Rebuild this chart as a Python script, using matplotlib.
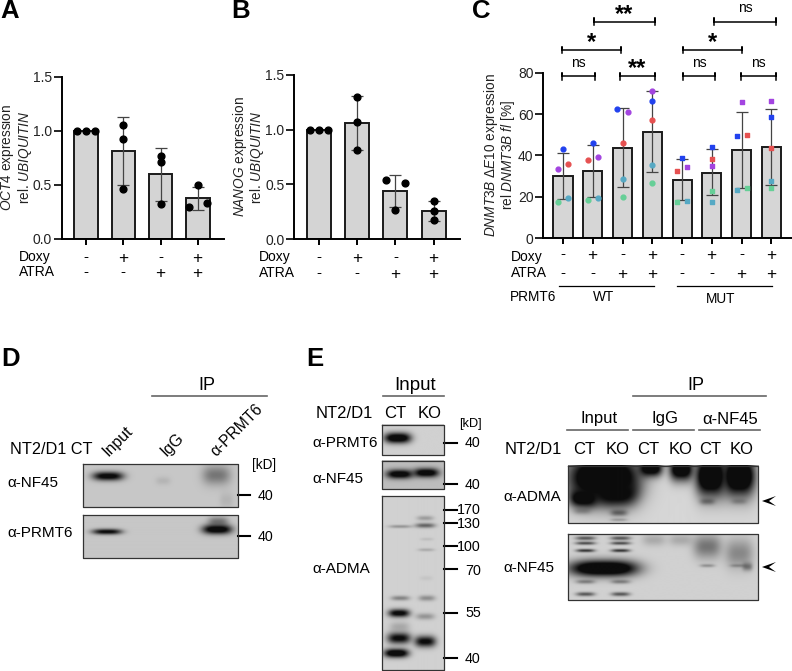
#!/usr/bin/env python3
import numpy as np
import matplotlib
matplotlib.use('Agg')
import matplotlib.pyplot as plt
from matplotlib.transforms import blended_transform_factory

plt.rcParams['font.family'] = ['Liberation Sans', 'DejaVu Sans']
plt.rcParams['mathtext.fontset'] = 'custom'
plt.rcParams['mathtext.rm'] = 'Liberation Sans'
plt.rcParams['mathtext.it'] = 'Liberation Sans:italic'
plt.rcParams['mathtext.default'] = 'regular'

W, H = 792, 671

# panel A
doxy_a = ['-', '+', '-', '+']
atra_a = ['-', '-', '+', '+']
means_a = [1.0, 0.81, 0.60, 0.38]
err_hi_a = [1.0, 1.13, 0.845, 0.485]
err_lo_a = [1.0, 0.50, 0.355, 0.27]
pts_a = [[1.0, 1.0, 1.0], [1.05, 0.92, 0.46], [0.77, 0.71, 0.32], [0.30, 0.50, 0.33]]
off_a = [[-.24, 0, .24], [0, 0, 0], [0, 0, 0], [-.24, 0, .24]]

# panel B
means_b = [1.0, 1.06, 0.44, 0.26]
err_hi_b = [1.0, 1.31, 0.59, 0.35]
err_lo_b = [1.0, 0.81, 0.29, 0.17]
pts_b = [[1.0, 1.0, 1.0], [1.30, 1.07, 0.81], [0.54, 0.27, 0.51], [0.35, 0.26, 0.18]]
off_b = [[-.24, 0, .24], [0, 0, 0], [-.24, 0, .24], [0, 0, 0]]

# panel C, five donors in each bar: blue, purple, red, teal, green
doxy_c = ['-', '+', '-', '+', '-', '+', '-', '+']
atra_c = ['-', '-', '+', '+', '-', '-', '+', '+']
means_c = [30, 32.3, 43.7, 51.5, 28.3, 31.5, 42.5, 44]
err_hi_c = [41.3, 45.2, 62.8, 71, 38.5, 43, 61, 62.7]
err_lo_c = [19, 20, 24.8, 32.2, 18.3, 20.7, 24.2, 25.8]
blue_c = [43.3, 46.2, 62.3, 66.5, 39, 44.3, 49.3, 58.6]
purple_c = [33.6, 39.3, 61, 71.3, 34.3, 34.8, 65.8, 66.3]
red_c = [35.7, 37.7, 46, 57.3, 32.7, 38.5, 49.9, 43.5]
teal_c = [19.6, 19.6, 28.7, 35.6, 18, 17.4, 23.5, 27.5]
green_c = [17.7, 18.4, 20, 26.9, 17.5, 23, 24.3, 24.5]
blue_off = [0, 0, -.17, 0, 0, 0, -.17, 0]
purple_off = [-.17, .17, .17, 0, .17, 0, 0, 0]
red_off = [.17, -.17, 0, 0, -.17, 0, .17, 0]
teal_off = [.17, .17, 0, 0, .17, 0, -.17, 0]
green_off = [-.17, -.17, 0, 0, -.17, 0, .17, 0]
# x0, x1, value, label
brackets_c = [(-.03, 1.06, 78.2, 'ns'), (1.91, 3.09, 78.2, '**'), (-.03, 1.96, 90.9, '*'),
              (1.04, 3.09, 104.6, '**'), (4.02, 5.12, 78.2, 'ns'), (5.97, 7.14, 78.2, 'ns'),
              (4.02, 6.01, 90.9, '*'), (5.08, 7.14, 104.6, 'ns')]

fig = plt.figure(figsize=(W / 100, H / 100), dpi=100)

# full figure axes in pixels for the blots and loose text
pix = fig.add_axes([0, 0, 1, 1])
pix.set_xlim(0, W)
pix.set_ylim(H, 0)
pix.axis('off')


def make_axes(left, right, top, bottom):
    ax = fig.add_axes([left / W, 1 - bottom / H, (right - left) / W, (bottom - top) / H])
    ax.patch.set_alpha(0)
    ax.spines['top'].set_visible(False)
    ax.spines['right'].set_visible(False)
    ax.spines['left'].set_linewidth(1.4)
    ax.spines['bottom'].set_linewidth(1.4)
    ax.tick_params(axis='y', length=6, width=1.4, labelsize=10, pad=0.8, colors='#222222')
    ax.tick_params(axis='x', length=4.5, width=1.4, labelbottom=False)
    return ax


def put_sign(ax, tr, i, y, s):
    # mathtext keeps the box of the plus tight, so the two rows stay apart
    if s == '+':
        ax.text(i, 1 - y / H, '$+$', transform=tr, ha='center', va='center', fontsize=12.3)
    else:
        ax.text(i, 1 - y / H, s, transform=tr, ha='center', va='center', fontsize=11)


def sign_rows(ax, doxy, atra, y1, y2, x_lab, ly1=None, ly2=None):
    tr = blended_transform_factory(ax.transData, fig.transFigure)
    for i in range(len(doxy)):
        put_sign(ax, tr, i, y1, doxy[i])
        put_sign(ax, tr, i, y2, atra[i])
    pix.text(x_lab, ly1 or y1, 'Doxy', fontsize=10, va='center')
    pix.text(x_lab, ly2 or y2, 'ATRA', fontsize=10, va='center')


def y_label(x1, x2, y, line1, line2):
    pix.text(x1, y, line1, rotation=90, fontsize=9.8, ha='center', va='center', color='#222222')
    pix.text(x2, y, line2, rotation=90, fontsize=9.8, ha='center', va='center', color='#222222')


def bar_panel(ax, means, hi, lo, pts, off, bw):
    x = np.arange(len(means))
    ax.bar(x, means, width=bw, color='#d4d4d4', edgecolor='#1a1a1a', linewidth=1.4)
    for i in x:
        if hi[i] != lo[i]:
            ax.errorbar(i, means[i], yerr=[[means[i] - lo[i]], [hi[i] - means[i]]], color='#444444',
                        elinewidth=0.9, capsize=4.3, capthick=0.9)
        ax.scatter(np.array(off[i]) + i, pts[i], s=24, color='black', zorder=5, clip_on=False)
    ax.set_xticks(x)


# A
ax_a = make_axes(61.5, 224, 76.7, 239)
bar_panel(ax_a, means_a, err_hi_a, err_lo_a, pts_a, off_a, 0.625)
ax_a.set_xlim(-0.656, 3.7)
ax_a.set_ylim(0, 1.5)
ax_a.set_yticks([0, 0.5, 1.0, 1.5], ['0.0', '0.5', '1.0', '1.5'])
sign_rows(ax_a, doxy_a, atra_a, 257, 272, 19)
y_label(7.5, 25, 157, '$\\mathit{OCT4}$ expression', 'rel. $\\mathit{UBIQUITIN}$')

# B
ax_b = make_axes(293.7, 460, 74.7, 239.3)
bar_panel(ax_b, means_b, err_hi_b, err_lo_b, pts_b, off_b, 0.625)
ax_b.set_xlim(-0.66, 3.69)
ax_b.set_ylim(0, 1.5)
ax_b.set_yticks([0, 0.5, 1.0, 1.5], ['0.0', '0.5', '1.0', '1.5'])
sign_rows(ax_b, doxy_a, atra_a, 257.5, 273, 259)
y_label(240, 257, 157, '$\\mathit{NANOG}$ expression', 'rel. $\\mathit{UBIQUITIN}$')

# C
ax_c = make_axes(543, 792, 72.7, 238.3)
x_c = np.arange(8)
ax_c.bar(x_c, means_c, width=0.64, color='#d6d6d6', edgecolor='#1a1a1a', linewidth=1.4)
for i in x_c:
    ax_c.errorbar(i, means_c[i], yerr=[[means_c[i] - err_lo_c[i]], [err_hi_c[i] - means_c[i]]],
                  color='#444444', elinewidth=0.9, capsize=4.3, capthick=0.9)
donors = [(blue_c, blue_off, '#2242ee'), (purple_c, purple_off, '#a344e0'), (red_c, red_off, '#e65151'),
          (teal_c, teal_off, '#56a9c4'), (green_c, green_off, '#66cf97')]
for vals, off, col in donors:
    ax_c.scatter(x_c[:4] + np.array(off[:4]), vals[:4], s=12, marker='o', color=col, zorder=5, clip_on=False)
    ax_c.scatter(x_c[4:] + np.array(off[4:]), vals[4:], s=12, marker='s', color=col, zorder=5, clip_on=False)
ax_c.set_xticks(x_c)
ax_c.set_xlim(-0.672, 7.692)
ax_c.set_ylim(0, 80)
ax_c.set_yticks([0, 20, 40, 60, 80])
sign_rows(ax_c, doxy_c, atra_c, 254, 273, 511, 257, 273)
for x0, x1, y, lab in brackets_c:
    ax_c.plot([x0, x0, x0, x1, x1, x1], [y - 1.6, y + 1.6, y, y, y + 1.6, y - 1.6], color='black',
              lw=1.1, clip_on=False)
    if lab == 'ns':
        ax_c.text((x0 + x1) / 2, y + 3.2, lab, ha='center', va='bottom', fontsize=10, clip_on=False)
    else:
        ax_c.text((x0 + x1) / 2, y - 1.9, lab, ha='center', va='bottom', fontsize=17, fontweight='bold', clip_on=False)
y_label(491, 508, 155, '$\\mathit{DNMT3B\\ \\Delta E10}$ expression', 'rel $\\mathit{DNMT3B\\ fl}$ [%]')
pix.plot([559, 654], [286, 286], color='black', lw=0.9)
pix.plot([677, 772], [286, 286], color='black', lw=0.9)
pix.text(510, 297, 'PRMT6', fontsize=9.8, va='center')
pix.text(604, 297, 'WT', fontsize=9.8, ha='center', va='center')
pix.text(721, 299, 'MUT', fontsize=9.8, ha='center', va='center')

# panel letters
for lab, x, y in [('A', 0, 11), ('B', 231, 11), ('C', 472, 11), ('D', 1, 359), ('E', 306, 359)]:
    pix.text(x, y, lab, fontsize=18.5, fontweight='bold', va='center')


# ---- blots, band positions are read in zoomed crop pixels (3x) ----
def blot(ox, oy, box, bg, bands):
    x0, x1, y0, y1 = box
    xs = np.arange(x0, x1 + 1, 1.0)
    ys = np.arange(y0, y1 + 1, 1.0)
    xx, yy = np.meshgrid(xs, ys)
    img = np.full(xx.shape, 1.0)
    for cx, cy, w, h, amp in bands:
        d = np.exp(-np.abs((xx - cx) / w) ** 3 - ((yy - cy) / (h * 1.2)) ** 2)
        img = img * (1 - np.clip(amp * 1.25 * d, 0, 1))
    img = 0.05 + (bg - 0.05) * img
    pix.imshow(img, extent=[ox + x0 / 3, ox + x1 / 3, oy + y1 / 3, oy + y0 / 3], cmap='gray', vmin=0, vmax=1,
               aspect='auto', interpolation='bilinear', zorder=2)
    pix.plot(np.array([x0, x1, x1, x0, x0]) / 3 + ox, np.array([y0, y0, y1, y1, y0]) / 3 + oy,
             color='#333333', lw=0.9, zorder=3)


def kd_tick(x0, x1, y, lab, xt, yt=None):
    pix.plot([x0, x1], [y, y], color='black', lw=1.5)
    pix.text(xt, yt or y + 1, lab, fontsize=10.3, ha='left', va='center')


# D
blot(0, 340, (250, 714, 372, 500), 0.78,
     [(325, 408, 46, 11, 0.92), (650, 405, 42, 24, 0.35), (490, 422, 22, 10, 0.08), (680, 480, 20, 20, 0.08)])
blot(0, 340, (250, 714, 526, 655), 0.78,
     [(322, 576, 44, 7, 0.85), (652, 569, 44, 12, 1.0), (655, 545, 30, 12, 0.35)])
pix.text(10, 449, 'NT2/D1 CT', fontsize=11.7, va='center')
pix.text(7, 483, '\u03b1-NF45', fontsize=11, va='center')
pix.text(7, 533, '\u03b1-PRMT6', fontsize=11, va='center')
pix.text(207, 386, 'IP', fontsize=13, ha='center', va='center')
pix.plot([152, 266.5], [395.5, 395.5], color='#666666', lw=1.2)
pix.text(111, 459, 'Input', fontsize=11.5, rotation=45, ha='left', va='bottom', rotation_mode='anchor')
pix.text(168, 459, 'IgG', fontsize=11.5, rotation=45, ha='left', va='bottom', rotation_mode='anchor')
pix.text(218, 459, '\u03b1-PRMT6', fontsize=11.2, rotation=45, ha='left', va='bottom', rotation_mode='anchor')
pix.text(252, 465, '[kD]', fontsize=9.8, va='center')
kd_tick(238, 250, 495, '40', 258)
kd_tick(238, 250, 536, '40', 258)

# E input
blot(300, 340, (245, 431, 254, 345), 0.82, [(292, 295, 40, 13, 1.05)])
blot(300, 340, (245, 431, 364, 448), 0.74, [(298, 405, 40, 11, 1.0), (378, 401, 38, 11, 1.0)])
blot(300, 340, (245, 431, 469, 990), 0.82,
     [(300, 560, 35, 4, 0.25), (375, 557, 30, 6, 0.45), (375, 535, 25, 6, 0.22), (380, 598, 20, 4, 0.08),
      (378, 630, 25, 4, 0.16), (300, 775, 28, 6, 0.32), (380, 775, 25, 7, 0.28), (296, 820, 32, 10, 0.9),
      (375, 830, 28, 8, 0.25), (298, 860, 30, 12, 0.16), (296, 895, 35, 14, 0.85), (375, 905, 32, 14, 0.85),
      (288, 940, 37, 11, 1.05), (378, 715, 20, 6, 0.05)])
pix.text(415, 386, 'Input', fontsize=13.5, ha='center', va='center')
pix.plot([383, 444], [395.5, 395.5], color='#666666', lw=1.2)
pix.text(344, 413, 'NT2/D1', fontsize=12, ha='center', va='center')
pix.text(395, 413, 'CT', fontsize=12, ha='center', va='center')
pix.text(430, 413, 'KO', fontsize=12, ha='center', va='center')
pix.text(459, 424, '[kD]', fontsize=9.2, va='center')
pix.text(312, 443, '\u03b1-PRMT6', fontsize=11, va='center')
pix.text(312, 479, '\u03b1-NF45', fontsize=11, va='center')
pix.text(312, 569, '\u03b1-ADMA', fontsize=11, va='center')
for tick_y, lab, lab_y in [(443, '40', 443), (484, '40', 485), (510, '170', 510), (523, '130', 524), (546, '100', 547),
                           (569, '70', 571), (613, '55', 613), (658, '40', 659)]:
    kd_tick(444, 456.5, tick_y, lab, 465 if len(lab) == 2 else 457, lab_y)

# E IP
blot(490, 370, (233, 804, 287, 460), 0.84,
     [(340, 325, 108, 58, 1.2), (280, 385, 40, 22, 1.2), (375, 370, 62, 30, 1.1), (275, 425, 25, 8, 0.2),
      (385, 430, 25, 8, 0.4), (385, 451, 25, 4, 0.2), (480, 297, 35, 20, 1.1), (572, 300, 35, 28, 1.1),
      (660, 320, 45, 50, 1.2), (745, 320, 48, 50, 1.2), (650, 396, 22, 8, 0.32), (745, 396, 22, 7, 0.2)])
blot(490, 370, (233, 804, 493, 689), 0.82,
     [(340, 595, 102, 20, 1.2), (285, 505, 30, 5, 0.5), (390, 505, 30, 5, 0.5), (285, 520, 30, 4, 0.55),
      (390, 520, 30, 4, 0.55), (285, 542, 28, 4, 0.65), (390, 542, 28, 4, 0.65), (285, 635, 28, 5, 0.32),
      (390, 635, 28, 5, 0.32), (285, 672, 28, 5, 0.5), (390, 672, 28, 5, 0.5), (490, 510, 35, 15, 0.16),
      (570, 510, 35, 15, 0.16), (650, 530, 42, 30, 0.38), (745, 550, 42, 36, 0.3), (650, 587, 22, 4, 0.25),
      (740, 587, 22, 4, 0.22), (770, 590, 15, 10, 0.35)])
pix.text(696, 386, 'IP', fontsize=13, ha='center', va='center')
pix.plot([632.5, 765.5], [395.5, 395.5], color='#666666', lw=1.2)
for cx, lab, x0, x1 in [(599, 'Input', 567, 628), (665, 'IgG', 633, 694), (730, '\u03b1-NF45', 699, 760)]:
    pix.text(cx, 419, lab, fontsize=12, ha='center', va='center')
    pix.plot([x0, x1], [430, 430], color='#666666', lw=1.2)
pix.text(505, 450, 'NT2/D1', fontsize=12, va='center')
for cx, lab in [(584, 'CT'), (618, 'KO'), (648.5, 'CT'), (681, 'KO'), (710.5, 'CT'), (741.5, 'KO')]:
    pix.text(cx, 450, lab, fontsize=12, ha='center', va='center')
pix.text(503, 497, '\u03b1-ADMA', fontsize=11, va='center')
pix.text(503, 568, '\u03b1-NF45', fontsize=11, va='center')
for ay in [501, 567]:
    pix.fill([762, 776, 769, 776], [ay, ay - 5, ay, ay + 5], color='black', lw=0)

pix.set_xlim(0, W)
pix.set_ylim(H, 0)
fig.savefig('out.png', dpi=100)
